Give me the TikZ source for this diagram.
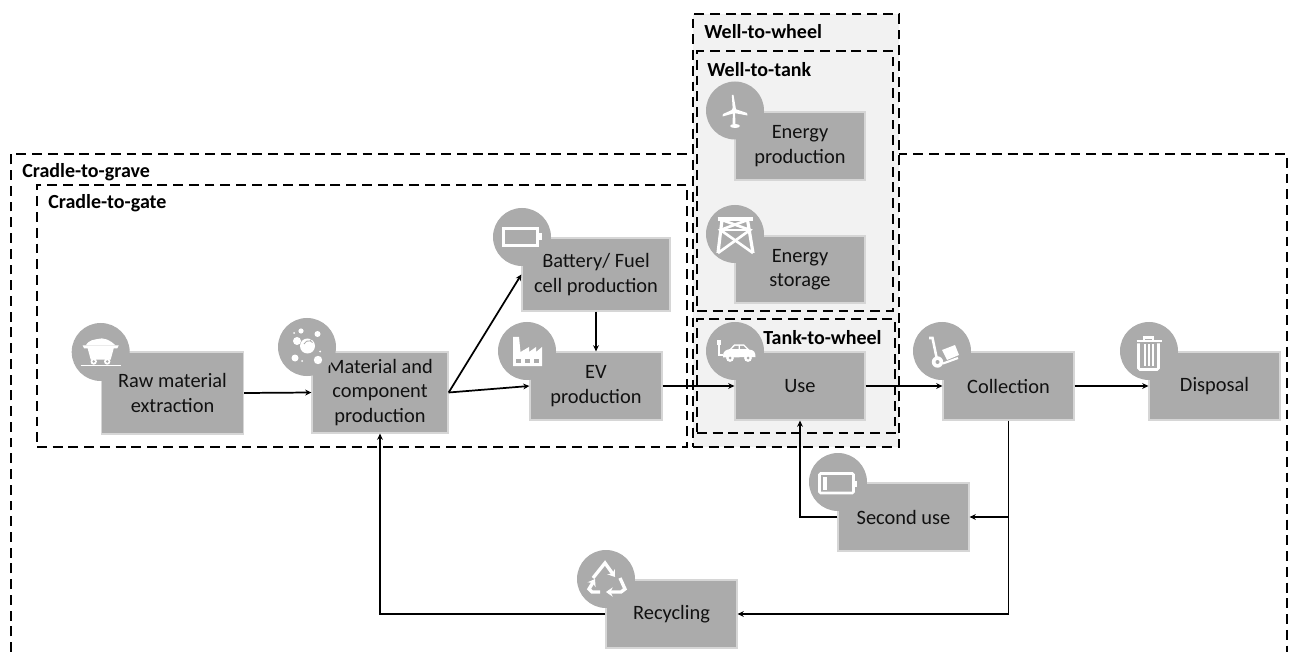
\documentclass[tikz,border=0pt]{standalone}
\usepackage{fontspec}
\setmainfont{Carlito}
\usetikzlibrary{arrows.meta}
\definecolor{boxgrey}{HTML}{ABABAB}
\definecolor{boxedge}{HTML}{D6D6D6}
\definecolor{wellfill}{HTML}{F2F2F2}
\definecolor{inkblack}{HTML}{111111}
\tikzset{
  x=0.75pt,y=-0.75pt,
  proc/.style={rectangle,fill=boxgrey,draw=boxedge,line width=1pt,inner sep=0pt,align=center,text=inkblack,
    font=\fontsize{15.3}{18.4}\selectfont},
  iconbg/.style={circle,fill=boxgrey,inner sep=0pt,minimum size=43.5pt},
  zone/.style={rectangle,draw=black,line width=1.7pt,dash pattern=on 7.4pt off 4.4pt,inner sep=0pt},
  zonelabel/.style={anchor=west,inner sep=0pt,text=black,font=\fontsize{15}{18}\selectfont\bfseries},
  flow/.style={draw=black,line width=1.3pt,-{Stealth[length=4.6pt,width=4.4pt]}},
}
\begin{document}
\begin{tikzpicture}
\useasboundingbox (0,0) rectangle (1296,652);
\fill[white] (0,0) rectangle (1296,652);

% outer frames
\coordinate (gravebl) at (11,652);
\coordinate (gravetl) at (11,154);
\coordinate (gravetr) at (1287,154);
\coordinate (gravebr) at (1287,652);
\draw[zone] (gravebl) -- (gravetl) -- (gravetr) -- (gravebr);
\node[zone,minimum width=487.5pt,minimum height=196.5pt] (gate) at (362,316) {};
\node[zone,fill=wellfill,minimum width=154.5pt,minimum height=324.75pt] (wtw) at (796,230.5) {};
\node[zone,minimum width=147pt,minimum height=195pt] (wtt) at (795,181) {};

\node[zonelabel] (lgrave) at (22,172) {Cradle-to-grave};
\node[zonelabel] (lgate) at (48,203) {Cradle-to-gate};
\node[zonelabel] (lwtw) at (704,32) {Well-to-wheel};
\node[zonelabel] (lwtt) at (707,70) {Well-to-tank};

% process boxes
\node[proc,minimum width=106.5pt,minimum height=61.5pt] (raw) at (172.5,393) {Raw material\\extraction};
\node[proc,minimum width=102pt,minimum height=60.75pt] (mat) at (380,392.5) {Material and\\component\\production};
\node[proc,minimum width=111pt,minimum height=54.75pt] (bat) at (596,274.5) {Battery/ Fuel\\cell production};
\node[proc,minimum width=99pt,minimum height=51pt] (ev) at (596,386) {EV\\production};
\node[proc,minimum width=97.5pt,minimum height=51pt] (prod) at (800,146) {Energy\\production};
\node[proc,minimum width=97.5pt,minimum height=50.25pt] (stor) at (800,269.5) {Energy\\storage};
\node[proc,minimum width=97.5pt,minimum height=51pt] (use) at (800,386) {Use};
\node[proc,minimum width=98.25pt,minimum height=51pt] (coll) at (1008.5,386) {Collection};
\node[proc,minimum width=98.25pt,minimum height=51pt] (disp) at (1214.5,386) {Disposal};
\node[proc,minimum width=98.25pt,minimum height=51pt] (second) at (903.5,517) {Second use};
\node[proc,minimum width=98.25pt,minimum height=51pt] (rec) at (671.5,614) {Recycling};

% icon discs
\node[iconbg] (iraw) at (100.7,352) {};
\node[iconbg] (imat) at (307,347) {};
\node[iconbg] (ibat) at (522,237) {};
\node[iconbg] (iev) at (527,351) {};
\node[iconbg] (iprod) at (735,110.5) {};
\node[iconbg] (istor) at (735,234) {};
\node[iconbg] (iuse) at (735,351) {};
\node[iconbg] (icoll) at (942,351) {};
\node[iconbg] (idisp) at (1149,351) {};
\node[iconbg] (isec) at (838,482) {};
\node[iconbg] (irec) at (606,579) {};

% connectors
\draw[flow] (raw.east) -- (mat.west);
\draw[flow] (mat.east) -- (bat.west);
\draw[flow] (mat.east) -- (ev.west);
\draw[flow] (bat.south) -- (ev.north);
\draw[flow] (ev.east) -- (use.west);
\draw[flow] (use.east) -- (coll.west);
\draw[flow] (coll.east) -- (disp.west);
\draw[flow] (coll.south) |- (rec.east);
\coordinate (branch) at (coll.south |- second.east);
\draw[flow] (branch) -- (second.east);
\draw[flow] (second.west) -| (use.south);
\draw[flow] (rec.west) -| (mat.south);

% tank-to-wheel frame over the flow
\node[zone,minimum width=148.5pt,minimum height=85.5pt] (ttw) at (796,376) {};
\node[zonelabel] (lttw) at (763,338) {Tank-to-wheel};

% icons
\begin{scope}[shift={(iraw)}]
  \fill[white] (-18,-6.5) -- (18,-6.5) -- (16.5,-3.5) -- (13,-3.5) -- (10,7.5) -- (-10,7.5) -- (-13,-3.5) -- (-16.5,-3.5) -- cycle;
  \fill[white] (-15,-6.5) .. controls (-11,-13) and (-6,-12) .. (-3,-13) .. controls (2,-15) and (10,-12) .. (15,-6.5) -- cycle;
  \fill[white] (-7,9.5) circle (3.2);
  \fill[white] (6.5,9.5) circle (3.2);
  \fill[boxgrey] (-7,9.5) circle (1.3);
  \fill[boxgrey] (6.5,9.5) circle (1.3);
  \draw[white,line width=1.4pt] (-20,13.5) -- (20,13.5);
\end{scope}
\begin{scope}[shift={(imat)}]
  \fill[white] (0.5,-1) circle (7.5);
  \draw[boxgrey,line width=.6pt] (-3,-3) arc (200:320:5);
  \draw[boxgrey,line width=.6pt] (3,-6) arc (60:-30:5);
  \fill[white] (-10,-6) circle (4);
  \fill[white] (10.5,-13) circle (3);
  \fill[white] (-6,-16) circle (2.6);
  \fill[white] (-12,11) circle (3.5);
  \fill[white] (11,13) circle (4.2);
  \fill[white] (-13,-14) circle (1);
  \fill[white] (-5,14) circle (1);
  \fill[white] (13,4.5) circle (1);
\end{scope}
\begin{scope}[shift={(ibat)}]
  \draw[white,line width=2pt] (-18.5,-8.5) rectangle (15.5,8.5);
  \fill[white] (16,-3.5) rectangle (19.5,3.5);
\end{scope}
\begin{scope}[shift={(iev)}]
  \fill[white] (-14,15) -- (-14,-14) -- (-8,-14) -- (-6.5,1) -- (2,-4) -- (2,1) -- (9,-4) -- (9,1) -- (15,-4) -- (15,15) -- cycle;
  \fill[boxgrey] (-11,8) rectangle (-6,11.5);
  \fill[boxgrey] (-2,8) rectangle (3,11.5);
  \fill[boxgrey] (7,8) rectangle (12,11.5);
\end{scope}
\begin{scope}[shift={(iprod)}]
  \fill[white] (-3.2,-15.5) -- (-1.5,-15.5) -- (1.2,0) -- (-2.2,0) -- cycle;
  \fill[white] (-12.5,6) -- (-12,3.5) -- (-1,-1.5) -- (0,2.5) -- cycle;
  \fill[white] (12.5,5) -- (12,2.5) -- (0,-1.5) -- (-1,2.5) -- cycle;
  \fill[white] (-1,0) circle (2.5);
  \fill[white] (-2,1) -- (0,1) -- (0.5,14) -- (-2.5,14) -- cycle;
  \fill[white] (0,15.5) ellipse (5 and 2);
\end{scope}
\begin{scope}[shift={(istor)}]
  \draw[white,line width=2.4pt] (-17.5,-15) -- (17.5,-15);
  \draw[white,line width=2.4pt] (-13,-14) -- (-17,19);
  \draw[white,line width=2.4pt] (12.5,-14) -- (18,19);
  \draw[white,line width=2pt] (-14.5,-4) -- (15,-4);
  \draw[white,line width=2pt] (-13,-14) -- (15,-4) -- (-17,19);
  \draw[white,line width=2pt] (12.5,-14) -- (-14.5,-4) -- (18,19);
\end{scope}
\begin{scope}[shift={(iuse)}]
  \fill[white] (-12,5) .. controls (-12,0) and (-9,-1) .. (-5,-2) -- (-1,-6.5) -- (9,-6.5) -- (14,-1.5) .. controls (19,-1) and (20.5,1) .. (20.5,6) -- (-12,6.5) -- cycle;
  \fill[boxgrey] (-3.2,-2) -- (-0.2,-5) -- (3.5,-5) -- (3.5,-2) -- cycle;
  \fill[boxgrey] (5,-2) -- (5,-5) -- (8.5,-5) -- (11.5,-2) -- cycle;
  \fill[white] (-5,7) circle (3.9);
  \fill[boxgrey] (-5,7) circle (1.5);
  \fill[white] (13,7) circle (3.9);
  \fill[boxgrey] (13,7) circle (1.5);
  \draw[white,line width=1.2pt] (-16,-6) -- (-16,4) -- (-12,4);
  \fill[white] (-18,-11) rectangle (-14,-6);
\end{scope}
\begin{scope}[shift={(icoll)}]
  \draw[white,line width=1.9pt] (-13,-13) -- (-9.5,-13) -- (-4.5,11);
  \fill[white] (-4.5,11) circle (5.7);
  \fill[boxgrey] (-4.5,11) circle (2);
  \fill[white] (0,-1) -- (13,-6) -- (17,4) -- (5,9) -- cycle;
  \draw[white,line width=1.6pt] (1,12.5) -- (16,7);
\end{scope}
\begin{scope}[shift={(idisp)}]
  \draw[white,line width=1.9pt] (-12.5,-10) -- (13,-10);
  \draw[white,line width=1.6pt] (-5,-10) -- (-5,-13.5) -- (4,-13.5) -- (4,-10);
  \draw[white,line width=1.9pt,rounded corners=1pt] (-10.5,-7.5) -- (-10.5,18.5) -- (9.5,18.5) -- (9.5,-7.5);
  \draw[white,line width=1.6pt] (-4,-6.5) -- (-4,15);
  \draw[white,line width=1.6pt] (0,-6.5) -- (0,15);
  \draw[white,line width=1.6pt] (4,-6.5) -- (4,15);
\end{scope}
\begin{scope}[shift={(isec)}]
  \draw[white,line width=1.9pt,rounded corners=.8pt] (-18.5,-8.5) rectangle (15.5,11);
  \fill[white] (16,-1.5) rectangle (19,4.5);
  \fill[white] (-15,-5) rectangle (-11.5,7.5);
\end{scope}
\begin{scope}[shift={(irec)}]
  \draw[white,line width=2.5pt,-{Stealth[length=5pt,width=7pt]}] (-13,-1) -- (-1,-16) -- (9,-2);
  \draw[white,line width=2.5pt,-{Stealth[length=5pt,width=7pt]}] (14,-1) -- (19,10) -- (15,13) -- (0,13);
  \draw[white,line width=2.5pt,-{Stealth[length=5pt,width=7pt]}] (-6,13) -- (-14,13) -- (-17,10) -- (-11,0);
\end{scope}
\end{tikzpicture}
\end{document}
